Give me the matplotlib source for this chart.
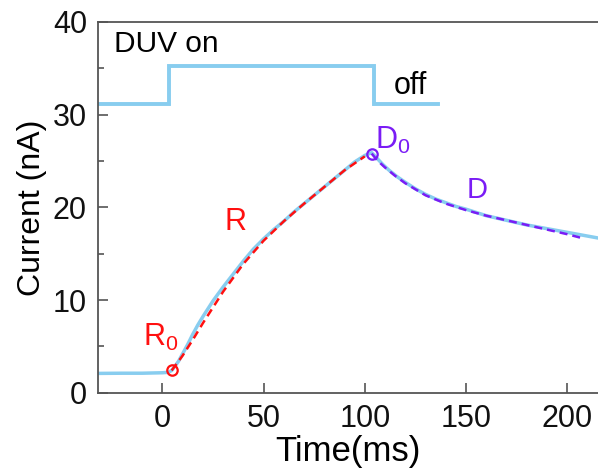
import matplotlib
matplotlib.use("Agg")
import matplotlib.pyplot as plt
from matplotlib.ticker import MultipleLocator

plt.rcParams['font.family'] = ['Liberation Sans', 'DejaVu Sans']
plt.rcParams['mathtext.fontset'] = 'custom'
plt.rcParams['mathtext.rm'] = 'Liberation Sans'
plt.rcParams['mathtext.it'] = 'Liberation Sans'

# measured photocurrent
t_meas = [-32, -20, -10, 0, 3, 4.6, 6, 8, 10, 12.5, 15, 17.5, 20, 25, 30, 35,
          40, 45, 50, 55, 60, 65, 70, 75, 80, 85, 90, 95, 100, 103.4,
          106, 109, 112, 116, 120, 125, 130, 135, 140, 145, 150, 160, 170,
          180, 190, 200, 215]
i_meas = [2.08, 2.1, 2.1, 2.15, 2.2, 2.4, 2.8, 3.4, 4.2, 5.2, 6.3, 7.3, 8.2,
          9.9, 11.4, 12.8, 14.2, 15.5, 16.6, 17.6, 18.5, 19.5, 20.4, 21.3,
          22.2, 23.1, 24.0, 24.9, 25.6, 25.9, 25.3, 24.6, 24.0, 23.3, 22.7,
          22.0, 21.4, 20.9, 20.5, 20.1, 19.8, 19.1, 18.6, 18.1, 17.7, 17.3,
          16.7]

# rise fit (R) and decay fit (D)
t_rise = [4.6, 8, 10, 15, 20, 25, 30, 35, 40, 50, 60, 70, 80, 90, 100]
i_rise = [2.4, 3.4, 4.0, 5.7, 7.5, 9.2, 10.9, 12.4, 13.9, 16.4, 18.5, 20.4,
          22.2, 24.0, 25.5]
t_decay = [103.4, 106, 110, 115, 120, 130, 140, 150, 160, 170, 180, 190, 200, 207]
i_decay = [25.8, 25.1, 24.3, 23.4, 22.6, 21.3, 20.4, 19.7, 19.1, 18.6, 18.1,
           17.6, 17.1, 16.7]

# DUV on/off trace
t_duv = [-32, 3.5, 3.5, 104.5, 104.5, 136]
i_duv = [31.1, 31.1, 35.2, 35.2, 31.1, 31.1]

r0 = (4.6, 2.4)
d0 = (103.4, 25.8)

blue = '#88CDEF'
red = '#FF1010'
purple = '#7A1CF5'

fig = plt.figure(figsize=(5.98, 4.75), dpi=100)
ax = fig.add_axes([0.1639, 0.1733, 0.8361, 0.7804])

ax.plot(t_duv, i_duv, color=blue, lw=2.8, solid_joinstyle='miter')
ax.plot(t_meas, i_meas, color=blue, lw=2.5)
ax.plot(t_rise, i_rise, color=red, lw=1.8, ls=(0, (3.2, 2.0)))
ax.plot(t_decay, i_decay, color=purple, lw=1.8, ls=(0, (3.2, 2.0)))
ax.plot(*r0, 'o', mfc='none', mec=red, ms=7.5, mew=1.6)
ax.plot(*d0, 'o', mfc='none', mec=purple, ms=7.5, mew=1.6)

ax.text(-24, 36.8, 'DUV on', fontsize=21.5)
ax.text(114.5, 32.2, 'off', fontsize=22)
ax.text(30.5, 17.6, 'R', fontsize=22, color=red)
ax.text(150.5, 21.0, 'D', fontsize=21, color=purple)
ax.text(-9.5, 5.1, r'R$_0$', fontsize=22, color=red)
ax.text(105.0, 26.3, r'D$_0$', fontsize=22, color=purple)

ax.set_xlim(-31.8, 215.2)
ax.set_ylim(0, 40)
ax.xaxis.set_major_locator(MultipleLocator(50))
ax.yaxis.set_major_locator(MultipleLocator(10))
ax.yaxis.set_minor_locator(MultipleLocator(5))
ax.tick_params(which='both', direction='in', top=False, right=False,
               color='#555555', width=1.2, labelsize=22, labelcolor='#111111')
ax.tick_params(which='major', length=7.5, pad=8)
ax.tick_params(which='minor', length=4)
for side in ['left', 'bottom', 'top']:
    ax.spines[side].set_color('#555555')
    ax.spines[side].set_linewidth(1.3)
ax.spines['right'].set_visible(False)

ax.set_xlabel('Time(ms)', fontsize=25, labelpad=1)
ax.set_ylabel('Current (nA)', fontsize=23, labelpad=4)

plt.savefig('out.png', dpi=100)
